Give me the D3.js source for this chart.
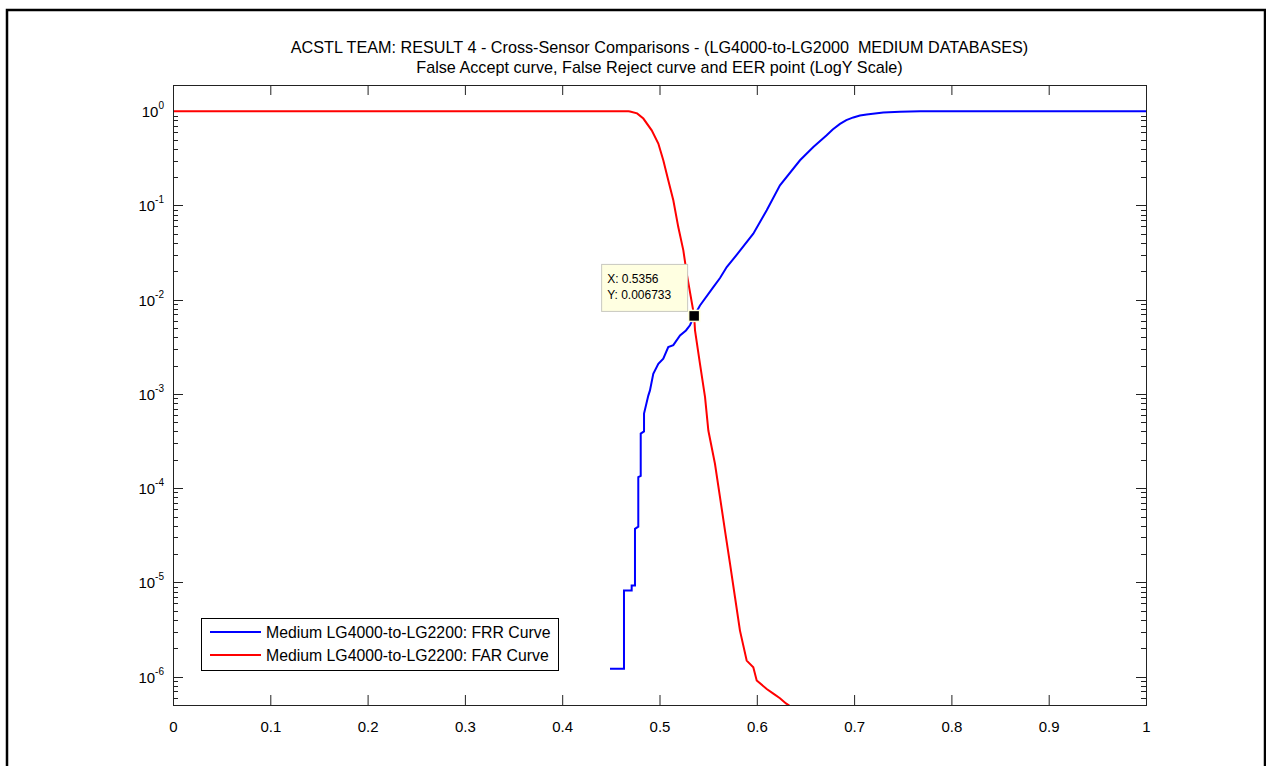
<!DOCTYPE html>
<html>
<head>
<meta charset="utf-8">
<script src="https://cdn.jsdelivr.net/npm/d3@7"></script>
<style>
  body { margin: 0; background: #fff; }
  svg { display: block; }
  text { font-family: "Liberation Sans", Arial, sans-serif; fill: #000; }
  .title { white-space: pre; }
</style>
</head>
<body>
<svg id="chart" width="1266" height="766"></svg>
<script>
// ---- chart data ----
const titleLines = [
  "ACSTL TEAM: RESULT 4 - Cross-Sensor Comparisons - (LG4000-to-LG2000  MEDIUM DATABASES)",
  "False Accept curve, False Reject curve and EER point (LogY Scale)"
];
const xTickValues = [0, 0.1, 0.2, 0.3, 0.4, 0.5, 0.6, 0.7, 0.8, 0.9, 1];
const xTickLabels = ["0", "0.1", "0.2", "0.3", "0.4", "0.5", "0.6", "0.7", "0.8", "0.9", "1"];
const yDecades = [0, -1, -2, -3, -4, -5, -6];
const yLimits = [5e-7, 1.9];

// False Reject Rate vs threshold
const frrThreshold = [0.4491, 0.4635, 0.4635, 0.4714, 0.4714, 0.4748, 0.4748, 0.4782, 0.4782, 0.4807,
  0.4807, 0.4841, 0.4841, 0.4885, 0.4902, 0.4936, 0.4988, 0.5039, 0.5090, 0.5142,
  0.5211, 0.5272, 0.5313, 0.5356, 0.5416, 0.5553, 0.5622, 0.5691, 0.5793, 0.5964,
  0.6102, 0.6238, 0.6444, 0.6581, 0.6718, 0.6780, 0.6855, 0.6920, 0.6992, 0.7060,
  0.7129, 0.7300, 0.7472, 0.7680, 1.0];
const frrRate = [1.21e-6, 1.21e-6, 8.2e-6, 8.2e-6, 9.3e-6, 9.3e-6, 3.7e-5, 3.9e-5, 1.31e-4, 1.35e-4,
  3.8e-4, 4.0e-4, 6.2e-4, 9.6e-4, 1.09e-3, 1.64e-3, 2.09e-3, 2.37e-3, 3.15e-3, 3.3e-3,
  4.18e-3, 4.72e-3, 5.36e-3, 6.733e-3, 8.7e-3, 0.0136, 0.0170, 0.0222, 0.0300, 0.0502,
  0.0889, 0.1637, 0.302, 0.418, 0.556, 0.640, 0.735, 0.805, 0.860, 0.900,
  0.925, 0.968, 0.99, 1, 1];

// False Accept Rate vs threshold
const farThreshold = [0, 0.4680, 0.4697, 0.4770, 0.4834, 0.4920, 0.4988, 0.5039, 0.5090, 0.5142, 0.5193,
  0.5245, 0.5280, 0.5356, 0.5365, 0.5416, 0.5468, 0.5502, 0.5570, 0.5622, 0.5673,
  0.5725, 0.5776, 0.5827, 0.5896, 0.5964, 0.5999, 0.6102, 0.6170, 0.6238, 0.6300,
  0.6390];
const farRate = [1, 1, 0.995, 0.95, 0.837, 0.628, 0.454, 0.302, 0.185, 0.1135, 0.059,
  0.0334, 0.0189, 6.733e-3, 4.72e-3, 2.09e-3, 9.25e-4, 4.09e-4, 1.815e-4, 8.0e-5, 3.55e-5,
  1.57e-5, 6.96e-6, 3.08e-6, 1.48e-6, 1.26e-6, 9.1e-7, 7.4e-7, 6.6e-7, 5.9e-7, 5.2e-7,
  4.5e-7];

const eerPoint = { x: 0.5356, y: 0.006733 };
const legendLabels = [
  "Medium LG4000-to-LG2200: FRR Curve",
  "Medium LG4000-to-LG2200: FAR Curve"
];
const seriesColors = ["#0000ff", "#ff0000"];

// ---- layout ----
const svg = d3.select("#chart");
const plot = { left: 173, top: 85, width: 973, height: 620 };

const x = d3.scaleLinear().domain([0, 1]).range([plot.left, plot.left + plot.width]);
const y = d3.scaleLog().domain(yLimits).range([plot.top + plot.height, plot.top]);

// figure frame
svg.append("rect")
  .attr("x", 7).attr("y", 10).attr("width", 1258).attr("height", 820)
  .attr("fill", "none").attr("stroke", "#000").attr("stroke-width", 2.5);

// title
svg.append("g").selectAll("text").data(titleLines).join("text")
  .attr("class", "title")
  .attr("x", plot.left + plot.width / 2)
  .attr("y", (d, i) => 53 + i * 20)
  .attr("text-anchor", "middle")
  .style("font-size", "16.2px")
  .text(d => d);

// plot background and clip region
svg.append("rect")
  .attr("x", plot.left).attr("y", plot.top).attr("width", plot.width).attr("height", plot.height)
  .attr("fill", "#fff");

svg.append("defs").append("clipPath").attr("id", "plotClip")
  .append("rect")
  .attr("x", plot.left).attr("y", plot.top).attr("width", plot.width).attr("height", plot.height);

const axisColor = "#222";
const majorLen = 10, minorLen = 5;

// x axis ticks (bottom and top)
const xAxisBottom = d3.axisBottom(x).tickValues(xTickValues)
  .tickFormat((d, i) => xTickLabels[i]).tickSizeInner(-majorLen).tickSizeOuter(0).tickPadding(majorLen + 6);
const gxb = svg.append("g").attr("transform", `translate(0,${plot.top + plot.height})`).call(xAxisBottom);
gxb.select(".domain").remove();
gxb.selectAll("line").attr("stroke", axisColor);
gxb.selectAll("text").style("font-size", "15px").attr("fill", "#000").style("font-family", "'Liberation Sans', Arial, sans-serif");

const xAxisTop = d3.axisTop(x).tickValues(xTickValues).tickFormat("").tickSizeInner(-majorLen).tickSizeOuter(0);
const gxt = svg.append("g").attr("transform", `translate(0,${plot.top})`).call(xAxisTop);
gxt.select(".domain").remove();
gxt.selectAll("line").attr("stroke", axisColor);

// y axis: major decades and minor 2..9 ticks, left and right
const majorVals = yDecades.map(e => Math.pow(10, e));
const minorVals = [];
for (let e = -7; e <= 0; e++) {
  for (let m = 2; m <= 9; m++) {
    const v = m * Math.pow(10, e);
    if (v >= yLimits[0] && v <= yLimits[1]) minorVals.push(v);
  }
}
const yTicks = svg.append("g").attr("stroke", axisColor).attr("stroke-width", 1);
[[plot.left, 1], [plot.left + plot.width, -1]].forEach(([x0, dir]) => {
  yTicks.selectAll(null).data(majorVals).join("line")
    .attr("x1", x0).attr("x2", x0 + dir * majorLen)
    .attr("y1", d => Math.round(y(d)) + 0.5).attr("y2", d => Math.round(y(d)) + 0.5);
  yTicks.selectAll(null).data(minorVals).join("line")
    .attr("x1", x0).attr("x2", x0 + dir * minorLen)
    .attr("y1", d => Math.round(y(d)) + 0.5).attr("y2", d => Math.round(y(d)) + 0.5);
});

// y tick labels as 10^n
const yLabels = svg.append("g").selectAll("text").data(yDecades).join("text")
  .attr("x", plot.left - 9)
  .attr("y", d => y(Math.pow(10, d)) + 6)
  .attr("text-anchor", "end")
  .style("font-size", "15px");
yLabels.append("tspan").text("10");
yLabels.append("tspan").attr("dy", -8).style("font-size", "10px").text(d => String(d));

// curves
const line = d3.line().x(d => x(d[0])).y(d => y(d[1]));
const frrData = frrThreshold.map((t, i) => [t, frrRate[i]]);
const farData = farThreshold.map((t, i) => [t, farRate[i]]);
const curves = svg.append("g").attr("clip-path", "url(#plotClip)");
curves.append("path").datum(frrData).attr("d", line)
  .attr("fill", "none").attr("stroke", seriesColors[0]).attr("stroke-width", 2);
curves.append("path").datum(farData).attr("d", line)
  .attr("fill", "none").attr("stroke", seriesColors[1]).attr("stroke-width", 2);

// axes box
svg.append("rect")
  .attr("x", plot.left + 0.5).attr("y", plot.top + 0.5).attr("width", plot.width).attr("height", plot.height)
  .attr("fill", "none").attr("stroke", axisColor).attr("stroke-width", 1);

// EER data tip
const tip = svg.append("g");
const tipBox = { left: x(eerPoint.x) - 93, top: y(eerPoint.y) - 52, width: 86, height: 47 };
tip.append("rect")
  .attr("x", tipBox.left + 0.5).attr("y", tipBox.top + 0.5)
  .attr("width", tipBox.width).attr("height", tipBox.height)
  .attr("fill", "#ffffe1").attr("stroke", "#c8c8c0").attr("stroke-width", 1);
tip.selectAll("text").data([`X: ${eerPoint.x}`, `Y: ${eerPoint.y}`]).join("text")
  .attr("x", tipBox.left + 6)
  .attr("y", (d, i) => tipBox.top + 19 + i * 16.5)
  .style("font-size", "12px")
  .text(d => d);
tip.append("rect")
  .attr("x", x(eerPoint.x) - 5.5).attr("y", y(eerPoint.y) - 5.5)
  .attr("width", 11).attr("height", 11)
  .attr("fill", "#000").attr("stroke", "#ffffd8").attr("stroke-width", 1.5);

// legend
const legend = svg.append("g");
legend.append("rect")
  .attr("x", 201.5).attr("y", 618.5).attr("width", 357).attr("height", 52)
  .attr("fill", "#fff").attr("stroke", "#000").attr("stroke-width", 1);
legendLabels.forEach((label, i) => {
  const ly = 632 + i * 23;
  legend.append("line")
    .attr("x1", 210).attr("x2", 261).attr("y1", ly).attr("y2", ly)
    .attr("stroke", seriesColors[i]).attr("stroke-width", 2);
  legend.append("text")
    .attr("x", 266).attr("y", ly + 6)
    .style("font-size", "15.8px")
    .text(label);
});
</script>
</body>
</html>
